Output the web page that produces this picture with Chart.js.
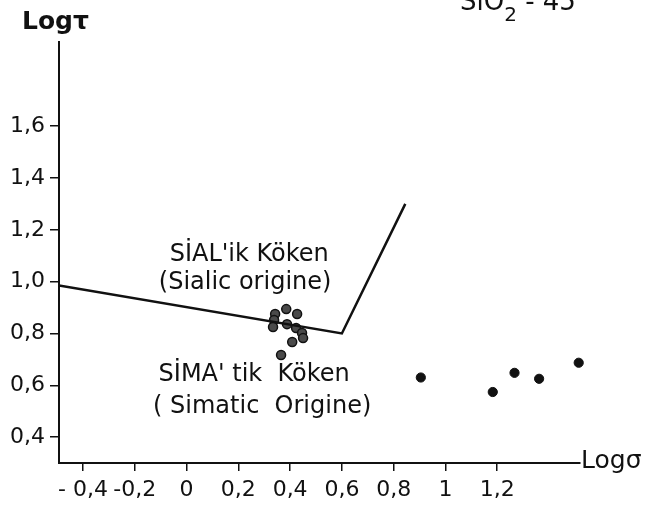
<!DOCTYPE html>
<html>
<head>
<meta charset="utf-8">
<script src="https://cdn.jsdelivr.net/npm/chart.js@4.4.1/dist/chart.umd.min.js"></script>
<style>
  html, body { margin: 0; padding: 0; background: #fff; }
  #wrap { width: 651px; height: 507px; }
</style>
</head>
<body>
<div id="wrap"><canvas id="chart" width="651" height="507"></canvas></div>
<script>
// Axis ticks
const xTicks = [-0.4, -0.2, 0, 0.2, 0.4, 0.6, 0.8, 1.0, 1.2];
const xTickLabels = ['- 0,4', '-0,2', '0', '0,2', '0,4', '0,6', '0,8', '1', '1,2'];
const yTicks = [0.4, 0.6, 0.8, 1.0, 1.2, 1.4, 1.6];
const yTickLabels = ['0,4', '0,6', '0,8', '1,0', '1,2', '1,4', '1,6'];

// Samples near the boundary (hatched circles)
const clusterX = [0.342, 0.385, 0.427, 0.338, 0.334, 0.388, 0.423, 0.446, 0.450, 0.408, 0.365];
const clusterY = [0.875, 0.894, 0.875, 0.852, 0.825, 0.836, 0.821, 0.802, 0.782, 0.767, 0.717];

// Samples on the right (solid dots)
const sampleX = [0.905, 1.183, 1.267, 1.362, 1.515];
const sampleY = [0.630, 0.574, 0.648, 0.625, 0.687];

// SIAL / SIMA boundary
const boundaryX = [-0.493, 0.60, 0.845];
const boundaryY = [0.985, 0.80, 1.30];

// Field labels
const regionLabels = ["SİAL'ik Köken", '(Sialic origine)', "SİMA' tik  Köken", '( Simatic  Origine)'];
const regionX = [0.242, 0.226, 0.261, 0.292];
const regionY = [1.103, 0.995, 0.639, 0.516];

const ink = '#111';

function toPoints(xs, ys) {
    return xs.map((x, i) => ({ x: x, y: ys[i] }));
}

const textPlugin = {
    id: 'figureText',
    afterDraw(chart) {
        const ctx = chart.ctx;
        const xs = chart.scales.x;
        const ys = chart.scales.y;
        const area = chart.chartArea;
        ctx.save();
        ctx.fillStyle = ink;
        ctx.textAlign = 'center';
        ctx.textBaseline = 'middle';
        ctx.font = '24px "DejaVu Sans"';
        regionLabels.forEach((label, i) => {
            ctx.fillText(label, xs.getPixelForValue(regionX[i]), ys.getPixelForValue(regionY[i]));
        });

        // axis titles
        ctx.font = 'bold 25px "DejaVu Sans"';
        ctx.textAlign = 'left';
        ctx.fillText('Logτ', 22, 22);
        ctx.font = '25px "DejaVu Sans"';
        ctx.fillText('Logσ', area.right + 1, area.bottom - 2);

        // panel title, cut at the top edge
        ctx.textBaseline = 'alphabetic';
        ctx.font = '26px "DejaVu Sans"';
        ctx.fillText('SiO', 460, 10);
        let w = ctx.measureText('SiO').width;
        ctx.font = '20px "DejaVu Sans"';
        ctx.fillText('2', 460 + w, 21);
        w += ctx.measureText('2').width;
        ctx.font = '26px "DejaVu Sans"';
        ctx.fillText(' - 45', 460 + w, 10);
        ctx.restore();
    }
};

Chart.defaults.font.family = '"DejaVu Sans"';
Chart.defaults.font.size = 22;
Chart.defaults.color = ink;

new Chart(document.getElementById('chart'), {
    type: 'scatter',
    data: {
        datasets: [
            {
                type: 'line',
                data: toPoints(boundaryX, boundaryY),
                borderColor: ink,
                borderWidth: 2.5,
                pointRadius: 0,
                fill: false,
                tension: 0
            },
            {
                data: toPoints(clusterX, clusterY),
                backgroundColor: '#4a4a4a',
                borderColor: ink,
                borderWidth: 1.5,
                pointRadius: 4.5
            },
            {
                data: toPoints(sampleX, sampleY),
                backgroundColor: ink,
                borderColor: ink,
                borderWidth: 1,
                pointRadius: 4.6,
                clip: false
            }
        ]
    },
    options: {
        responsive: false,
        animation: false,
        layout: { padding: { top: 42, right: 71, left: 0, bottom: 0 } },
        plugins: { legend: { display: false }, tooltip: { enabled: false } },
        scales: {
            x: {
                type: 'linear',
                min: -0.493,
                max: 1.52,
                afterBuildTicks: s => { s.ticks = xTicks.map(v => ({ value: v })); },
                afterFit: s => { s.height = 44; },
                border: { color: ink, width: 2 },
                grid: { drawOnChartArea: false, tickLength: 8, color: ink, lineWidth: 1.5 },
                ticks: {
                    autoSkip: false,
                    maxRotation: 0,
                    padding: 6,
                    callback: (v, i) => xTickLabels[i]
                }
            },
            y: {
                type: 'linear',
                min: 0.30,
                max: 1.925,
                afterBuildTicks: s => { s.ticks = yTicks.map(v => ({ value: v })); },
                afterFit: s => { s.width = 59; },
                border: { color: ink, width: 2 },
                grid: { drawOnChartArea: false, tickLength: 9, color: ink, lineWidth: 1.5 },
                ticks: {
                    autoSkip: false,
                    padding: 5,
                    callback: (v, i) => yTickLabels[i]
                }
            }
        }
    },
    plugins: [textPlugin]
});
</script>
</body>
</html>
